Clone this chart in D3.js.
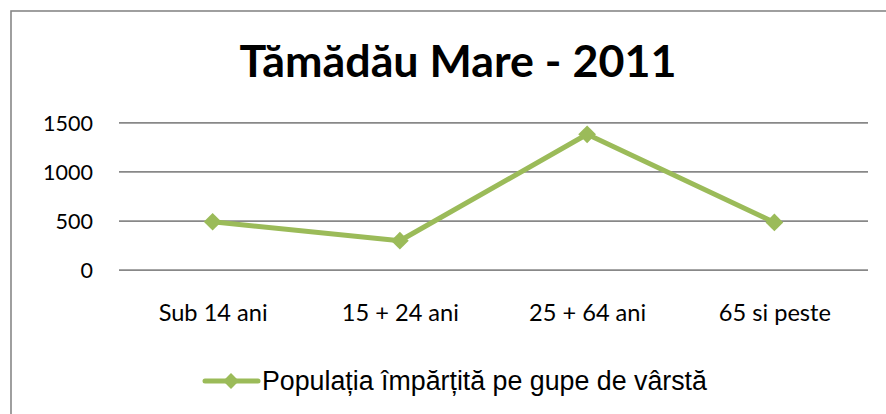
<!DOCTYPE html>
<html>
<head>
<meta charset="utf-8">
<script src="https://cdn.jsdelivr.net/npm/d3@7"></script>
<style>
  html, body { margin: 0; padding: 0; background: #fff; }
  svg { display: block; }
</style>
</head>
<body>
<svg id="chart" width="886" height="414"></svg>
<script>
// Age groups and population counts (2011 census)
const categories = ["Sub 14 ani", "15 + 24 ani", "25 + 64 ani", "65 si peste"];
const populationValues = [488, 295, 1378, 481];
const yTicks = [0, 500, 1000, 1500];
const chartTitle = "Tămădău Mare - 2011";
const seriesName = "Populația împărțită pe gupe de vârstă";

const svg = d3.select("#chart");
const W = 886, H = 414;
const green = "#9BBB59";
const gridColor = "#888888";
const labelFont = "Lato, 'Open Sans', sans-serif";

// chart frame (extends past the right/bottom edges)
svg.append("rect")
  .attr("x", 11).attr("y", 11)
  .attr("width", W + 20).attr("height", H + 20)
  .attr("fill", "#fff")
  .attr("stroke", "#878787").attr("stroke-width", 1.6);

const plot = { left: 119, right: 868, top: 122.3, bottom: 269.7 };

const x = d3.scalePoint().domain(categories)
  .range([plot.left, plot.right]).padding(0.5);
const y = d3.scaleLinear().domain([0, 1500])
  .range([plot.bottom, plot.top]);

// fit a text element's font size to a given width
function fitWidth(sel, base, target) {
  const w = sel.node().getComputedTextLength();
  return base * target / w;
}

// title
const title = svg.append("text")
  .attr("x", 458).attr("y", 77)
  .attr("text-anchor", "middle")
  .attr("font-family", labelFont)
  .attr("font-weight", "bold")
  .attr("font-size", 40)
  .attr("fill", "#000")
  .text(chartTitle);
title.attr("font-size", fitWidth(title, 40, 437));

// horizontal gridlines + y labels
const yAxis = d3.axisLeft(y).tickValues(yTicks)
  .tickSize(-(plot.right - plot.left)).tickPadding(26)
  .tickFormat(d3.format("d"));
const gy = svg.append("g")
  .attr("transform", `translate(${plot.left},0)`)
  .call(yAxis);
gy.select(".domain").remove();
gy.selectAll(".tick line").attr("stroke", gridColor).attr("stroke-width", 1.8);
gy.selectAll(".tick text")
  .attr("font-family", labelFont)
  .attr("font-size", 21.5)
  .attr("fill", "#000")
  .attr("dy", "0.36em");

// category labels
const xAxis = d3.axisBottom(x).tickSize(0).tickPadding(0);
const gx = svg.append("g")
  .attr("transform", `translate(0,${plot.bottom})`)
  .call(xAxis);
gx.select(".domain").remove();
const xTexts = gx.selectAll(".tick text")
  .attr("font-family", labelFont)
  .attr("font-size", 22)
  .attr("fill", "#000")
  .attr("y", 51)
  .attr("dy", 0);
const catSize = fitWidth(d3.select(xTexts.nodes()[0]), 22, 109);
xTexts.attr("font-size", catSize);

// line series
const line = d3.line()
  .x((d, i) => x(categories[i]))
  .y(d => y(d));
svg.append("path")
  .datum(populationValues)
  .attr("d", line)
  .attr("fill", "none")
  .attr("stroke", green)
  .attr("stroke-width", 5)
  .attr("stroke-linejoin", "round");

const diamond = d3.symbol().type(d3.symbolDiamond2).size(200);
svg.selectAll(".marker")
  .data(populationValues)
  .enter().append("path")
  .attr("class", "marker")
  .attr("transform", (d, i) => `translate(${x(categories[i])},${y(d)})`)
  .attr("d", diamond)
  .attr("fill", green);

// legend
const lg = svg.append("g");
lg.append("line")
  .attr("x1", 205).attr("x2", 258)
  .attr("y1", 381).attr("y2", 381)
  .attr("stroke", green).attr("stroke-width", 5)
  .attr("stroke-linecap", "round");
lg.append("path")
  .attr("transform", "translate(231,381)")
  .attr("d", d3.symbol().type(d3.symbolDiamond2).size(160))
  .attr("fill", green);
const lt = lg.append("text")
  .attr("x", 262).attr("y", 390)
  .attr("font-family", "'Liberation Sans', Arial, sans-serif")
  .attr("font-size", 24)
  .attr("fill", "#000")
  .text(seriesName);
lt.attr("font-size", fitWidth(lt, 24, 445));
</script>
</body>
</html>
